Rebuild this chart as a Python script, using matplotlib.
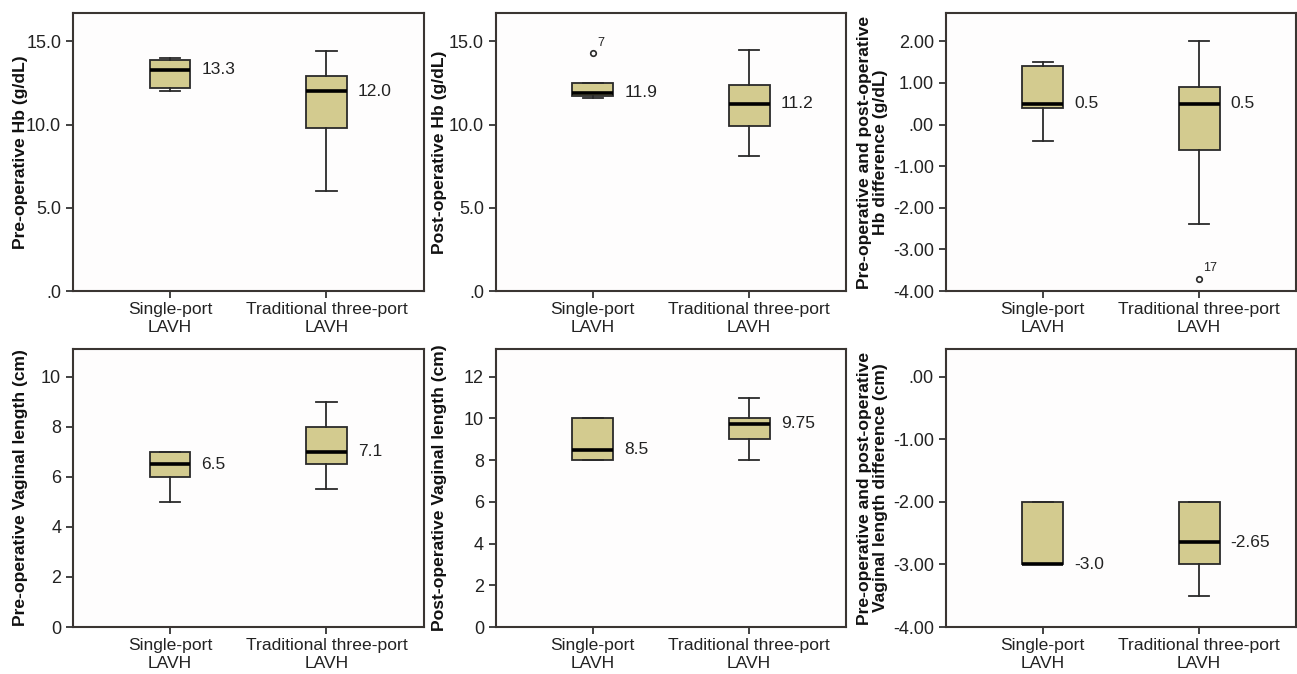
import matplotlib
matplotlib.use("Agg")
import matplotlib.pyplot as plt
from matplotlib.ticker import FuncFormatter

plt.rcParams['font.family'] = ['Liberation Sans', 'DejaVu Sans']

categories = ["Single-port\nLAVH", "Traditional three-port\nLAVH"]

# Each panel: whislo, q1, med, q3, whishi per group
pre_hb = {"whislo": [12.0, 6.0], "q1": [12.2, 9.8], "med": [13.3, 12.0], "q3": [13.9, 12.9], "whishi": [14.0, 14.4]}
pre_hb_labels = ["13.3", "12.0"]
post_hb = {"whislo": [11.6, 8.1], "q1": [11.7, 9.9], "med": [11.9, 11.25], "q3": [12.5, 12.4], "whishi": [12.5, 14.5]}
post_hb_labels = ["11.9", "11.2"]
post_hb_outliers = [[14.3], []]
post_hb_outlier_ids = [["7"], []]
diff_hb = {"whislo": [-0.4, -2.4], "q1": [0.4, -0.6], "med": [0.5, 0.5], "q3": [1.4, 0.9], "whishi": [1.5, 2.0]}
diff_hb_labels = ["0.5", "0.5"]
diff_hb_outliers = [[], [-3.7]]
diff_hb_outlier_ids = [[], ["17"]]

pre_vl = {"whislo": [5.0, 5.5], "q1": [6.0, 6.5], "med": [6.5, 7.0], "q3": [7.0, 8.0], "whishi": [7.0, 9.0]}
pre_vl_labels = ["6.5", "7.1"]
post_vl = {"whislo": [8.0, 8.0], "q1": [8.0, 9.0], "med": [8.5, 9.75], "q3": [10.0, 10.0], "whishi": [10.0, 11.0]}
post_vl_labels = ["8.5", "9.75"]
diff_vl = {"whislo": [-3.0, -3.5], "q1": [-3.0, -3.0], "med": [-3.0, -2.65], "q3": [-2.0, -2.0], "whishi": [-2.0, -2.0]}
diff_vl_labels = ["-3.0", "-2.65"]

ylabels = ["Pre-operative Hb (g/dL)", "Post-operative Hb (g/dL)",
           "Pre-operative and post-operative\nHb difference (g/dL)",
           "Pre-operative Vaginal length (cm)", "Post-operative Vaginal length (cm)",
           "Pre-operative and post-operative\nVaginal length difference (cm)"]

W, H = 1297, 674
fig = plt.figure(figsize=(W / 100, H / 100), dpi=100)
fig.patch.set_facecolor("white")

lefts = [73, 495.7, 945.7]
label_x = [-0.151, -0.159, -0.209]
width_px = 350.5
rows = [(13, 291), (349, 627)]

FILL = "#d3cb8f"
EDGE = "#2a2a2a"
SPINE = "#3a3532"

def fmt1(v, p):
    s = "%.1f" % v
    return s[1:] if s.startswith("0") else s

def fmt2(v, p):
    s = "%.2f" % v
    if s.startswith("0"):
        return s[1:]
    if s.startswith("-0"):
        return "-" + s[2:]
    return s

def fmt0(v, p):
    return "%d" % round(v)

panels = [
    (pre_hb, pre_hb_labels, None, None, (0, 16.7), [0, 5, 10, 15], fmt1),
    (post_hb, post_hb_labels, post_hb_outliers, post_hb_outlier_ids, (0, 16.7), [0, 5, 10, 15], fmt1),
    (diff_hb, diff_hb_labels, diff_hb_outliers, diff_hb_outlier_ids, (-4, 2.68), [-4, -3, -2, -1, 0, 1, 2], fmt2),
    (pre_vl, pre_vl_labels, None, None, (0, 11.1), [0, 2, 4, 6, 8, 10], fmt0),
    (post_vl, post_vl_labels, None, None, (0, 13.33), [0, 2, 4, 6, 8, 10, 12], fmt0),
    (diff_vl, diff_vl_labels, None, None, (-4, 0.44), [-4, -3, -2, -1, 0], fmt2),
]

positions = [1, 2]
box_w = 0.26

for i, (data, labels, outl, outl_ids, ylim, yticks, fmt) in enumerate(panels):
    r, c = divmod(i, 3)
    top, bot = rows[r]
    ax = fig.add_axes([lefts[c] / W, (H - bot) / H, width_px / W, (bot - top) / H])
    stats = []
    for g in range(2):
        stats.append({
            "whislo": data["whislo"][g], "q1": data["q1"][g], "med": data["med"][g],
            "q3": data["q3"][g], "whishi": data["whishi"][g],
            "fliers": outl[g] if outl else [],
        })
    ax.bxp(stats, positions=positions, widths=box_w, patch_artist=True, showfliers=True,
           boxprops=dict(facecolor=FILL, edgecolor=EDGE, linewidth=1.3),
           medianprops=dict(color="black", linewidth=2.6),
           whiskerprops=dict(color=EDGE, linewidth=1.3),
           capprops=dict(color=EDGE, linewidth=1.3),
           capwidths=box_w * 0.5,
           flierprops=dict(marker="o", markersize=4, markerfacecolor="none",
                           markeredgecolor=EDGE, markeredgewidth=1.2))
    for g in range(2):
        ax.annotate(labels[g], xy=(positions[g] + box_w / 2, data["med"][g]),
                    xytext=(8, 0), textcoords="offset points", va="center", ha="left",
                    fontsize=12.5, color="#222222")
        if outl:
            for v, lab in zip(outl[g], outl_ids[g]):
                ax.annotate(lab, xy=(positions[g], v), xytext=(3, 3), textcoords="offset points",
                            va="bottom", ha="left", fontsize=9, color="#222222")
    ax.set_xlim(0.38, 2.62)
    ax.set_ylim(*ylim)
    ax.set_yticks(yticks)
    ax.yaxis.set_major_formatter(FuncFormatter(fmt))
    ax.set_xticks(positions)
    ax.set_xticklabels(categories, fontsize=12.6, color="#222222", linespacing=1.25)
    ax.tick_params(axis="y", labelsize=13, colors="#222222", length=5, width=1.2, direction="out")
    ax.tick_params(axis="x", length=5, width=1.2, direction="out", pad=3, colors="#222222")
    for s in ax.spines.values():
        s.set_color(SPINE)
        s.set_linewidth(1.5)
    ax.set_facecolor("#fefdfd")
    ax.set_ylabel(ylabels[i], fontsize=12.6, fontweight="bold", color="#111111", linespacing=1.1)
    ax.yaxis.label.set_verticalalignment("center")
    ax.yaxis.set_label_coords(label_x[c], 0.5)

fig.savefig("out.png", dpi=100)
